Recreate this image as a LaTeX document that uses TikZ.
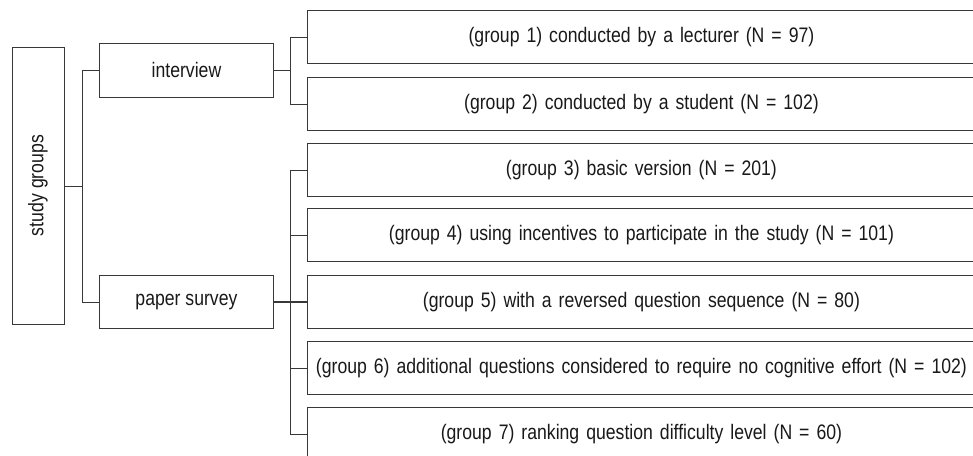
\documentclass[tikz,border=0pt]{standalone}
\usepackage{fontspec}
\setmainfont{Liberation Sans}[FakeStretch=0.84]
\begin{document}
\begin{tikzpicture}[x=1pt,y=-1pt,
  line width=0.9pt,
  box/.style={draw=black!78, fill=white, inner sep=0pt, font=\fontsize{21}{23}\selectfont, text=black!90},
  gbox/.style={box, minimum width=668pt, minimum height=53pt, anchor=north west, text width=668pt, align=center},
  conn/.style={draw=black!78, line width=0.9pt}]
\useasboundingbox (0,0) rectangle (973,455);
\node[box, minimum width=52pt, minimum height=277pt, anchor=north west] (sg) at (12,47) {};
\node[rotate=90, font=\fontsize{21}{23}\selectfont, text=black!90] (sgt) at (38,185.5) {study groups};
\node[box, minimum width=174pt, minimum height=54pt, anchor=north west] (iv) at (99,43) {interview};
\node[box, minimum width=174pt, minimum height=53pt, anchor=north west] (ps) at (99,275) {paper survey};
\node[gbox] (g1) at (307,10) {(group 1) conducted by a lecturer (N = 97)};
\node[gbox] (g2) at (307,77) {(group 2) conducted by a student (N = 102)};
\node[gbox] (g3) at (307,143) {(group 3) basic version (N = 201)};
\node[gbox] (g4) at (307,208) {(group 4) using incentives to participate in the study (N = 101)};
\node[gbox] (g5) at (307,275) {(group 5) with a reversed question sequence (N = 80)};
\node[gbox] (g6) at (307,341) {(group 6) additional questions considered to require no cognitive effort (N = 102)};
\node[gbox] (g7) at (307,407) {(group 7) ranking question difficulty level (N = 60)};
\draw[conn] (sg.east) -- ++(18,0) coordinate (j1);
\draw[conn] (iv.west) -| (j1);
\draw[conn] (ps.west) -| (j1);
\draw[conn] (iv.east) -- ++(17,0) coordinate (j2);
\draw[conn] (g1.west) -| (j2);
\draw[conn] (g2.west) -| (j2);
\draw[conn] (ps.east) -- ++(17,0) coordinate (j3);
\draw[conn] (g3.west) -| (j3);
\draw[conn] (g4.west) -| (j3);
\draw[conn, line width=1.8pt] (ps.east) -- (g5.west);
\draw[conn] (g6.west) -| (j3);
\draw[conn] (g7.west) -| (j3);
\end{tikzpicture}
\end{document}
